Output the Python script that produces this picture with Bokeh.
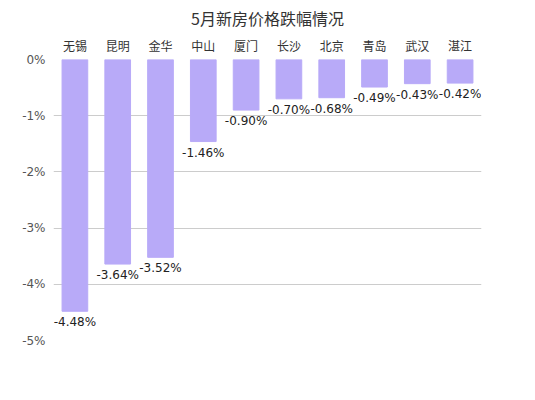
from bokeh.models import ColumnDataSource, FixedTicker, Range1d
from bokeh.plotting import figure
from bokeh.embed import file_html
from bokeh.resources import INLINE
from bokeh.core.properties import value

cities = ['无锡', '昆明', '金华', '中山', '厦门', '长沙', '北京', '青岛', '武汉', '湛江']
drops = [-4.48, -3.64, -3.52, -1.46, -0.90, -0.70, -0.68, -0.49, -0.43, -0.42]
y_ticks = [0, -1, -2, -3, -4, -5]
y_tick_labels = ['0%', '-1%', '-2%', '-3%', '-4%', '-5%']

src = ColumnDataSource(data=dict(
    city=cities,
    drop=drops,
    label=['{:.2f}%'.format(v) for v in drops],
))

p = figure(x_range=cities, y_range=Range1d(-5, 0), width=519, height=384,
           x_axis_location='above', toolbar_location=None, output_backend='svg',
           min_border_left=53, min_border_right=38, min_border_bottom=44, min_border_top=0)
p.title.text = '5月新房价格跌幅情况'
p.title.align = 'center'
p.title.text_font = 'Noto Sans CJK SC'
p.title.text_font_size = '16px'
p.title.text_font_style = 'normal'
p.title.text_color = '#333333'
p.title.offset = 0
p.title.standoff = 7
p.outline_line_color = None

p.vbar(x='city', top='drop', bottom=0, width=0.6, color='#b8aaf8', source=src)
p.text(x='city', y='drop', text='label', source=src, text_align='center',
       text_baseline='top', y_offset=4, text_font=value('DejaVu Sans'),
       text_font_size='12px', text_color='#222222')

p.xgrid.grid_line_color = None
p.ygrid.grid_line_color = '#cccccc'
p.ygrid.ticker = FixedTicker(ticks=y_ticks)

p.xaxis.axis_line_color = None
p.xaxis.major_tick_line_color = None
p.xaxis.major_label_text_font = 'Noto Sans CJK SC'
p.xaxis.major_label_text_font_size = '12px'
p.xaxis.major_label_text_color = '#333333'
p.xaxis.major_label_standoff = 0

p.yaxis.ticker = FixedTicker(ticks=y_ticks)
p.yaxis.major_label_overrides = dict(zip(y_ticks, y_tick_labels))
p.yaxis.axis_line_color = None
p.yaxis.major_tick_line_color = None
p.yaxis.minor_tick_line_color = None
p.yaxis.major_tick_out = 0
p.yaxis.major_label_text_font = 'DejaVu Sans'
p.yaxis.major_label_text_font_size = '12px'
p.yaxis.major_label_text_color = '#555555'
p.yaxis.major_label_standoff = 8

open('out.html', 'w').write(file_html(p, INLINE))
